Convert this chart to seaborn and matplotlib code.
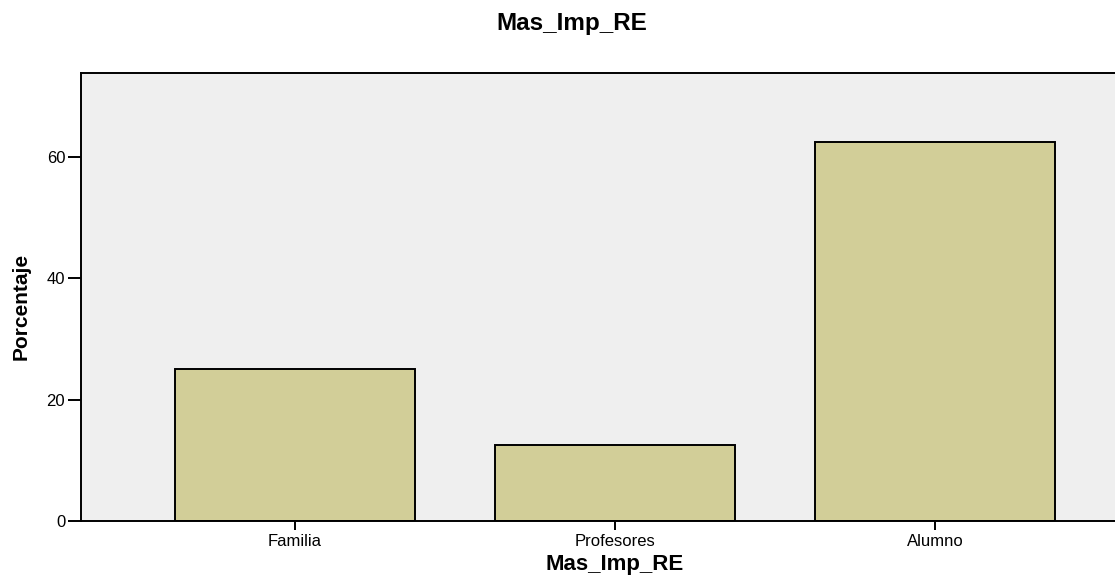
import matplotlib
matplotlib.use("Agg")
import matplotlib.pyplot as plt
import seaborn as sns
import pandas as pd

categories = ["Familia", "Profesores", "Alumno"]
values = [25.0, 12.5, 62.5]
yticks = [0, 20, 40, 60]

sns.set_theme(style="white")
plt.rcParams['font.family'] = ['Liberation Sans', 'DejaVu Sans']
plt.rcParams['text.color'] = 'black'
plt.rcParams['axes.labelcolor'] = 'black'
plt.rcParams['xtick.color'] = 'black'
plt.rcParams['ytick.color'] = 'black'

df = pd.DataFrame({"cat": categories, "val": values})

W, H = 1115, 575
fig = plt.figure(figsize=(W / 100, H / 100), dpi=100)
ax = fig.add_axes([81 / W, 1 - 521 / H, 1068 / W, (521 - 73) / H])
ax.set_facecolor("#EFEFEF")
sns.barplot(data=df, x="cat", y="val", ax=ax, color="#D2CE98", width=0.75,
            edgecolor="black", linewidth=1.4, saturation=1)
ax.set_xlim(-0.669, 2.669)
ax.set_ylim(0, 73.85)
ax.set_yticks(yticks)
ax.set_yticklabels([str(t) for t in yticks], fontsize=12)
ax.tick_params(axis='y', direction='out', length=9.4, width=1.4, color='black',
               left=True, pad=2, labelcolor='black')
ax.tick_params(axis='x', direction='out', length=6.5, width=1.4, color='black',
               bottom=True, labelsize=12, pad=3, labelcolor='black')
for s in ["left", "top", "bottom", "right"]:
    ax.spines[s].set_color("black")
    ax.spines[s].set_linewidth(1.4)

ax.set_xlabel("Mas_Imp_RE", fontsize=16, fontweight="bold", color="black")
ax.xaxis.set_label_coords(0.5, (521 - 570) / 448)
ax.xaxis.label.set_verticalalignment("baseline")

ax.set_ylabel("Porcentaje", fontsize=15, fontweight="bold", color="black")
ax.yaxis.set_label_coords((21 - 81) / 1068, (521 - 306) / 448)
ax.yaxis.label.set_verticalalignment("center")

fig.text(572 / W, 1 - 30 / H, "Mas_Imp_RE", ha="center", va="baseline",
         fontsize=17.5, fontweight="bold", color="black")
fig.savefig("out.png", dpi=100)
